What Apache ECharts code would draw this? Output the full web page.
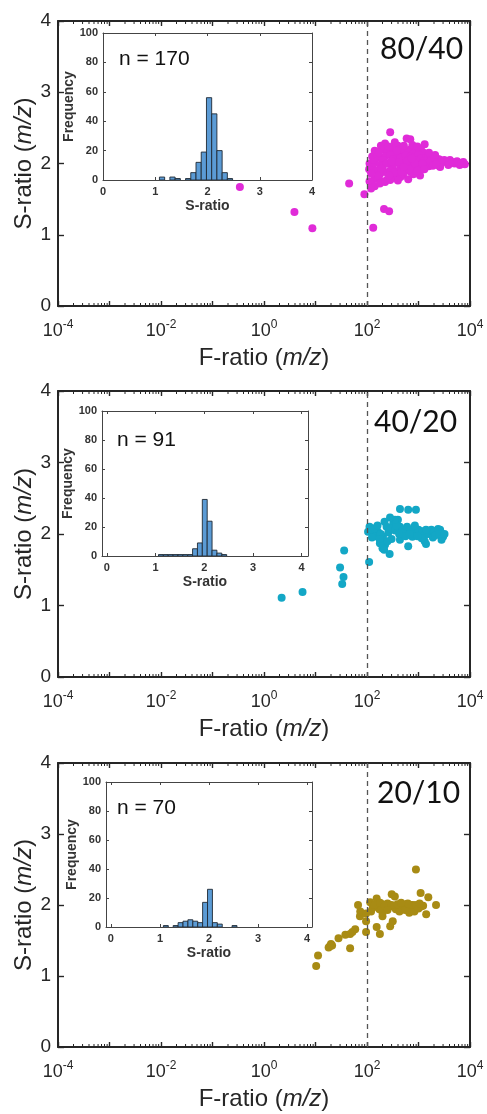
<!DOCTYPE html>
<html><head><meta charset="utf-8">
<script src="https://cdn.jsdelivr.net/npm/echarts@6/dist/echarts.min.js"></script>
<style>html,body{margin:0;padding:0;background:#fff}#c{width:487px;height:1114px}</style>
</head><body><div id="c"></div>
<script>
// ---------------- data ----------------
const panelTags = ['80/40', '40/20', '20/10'];
const sampleLabels = ['n = 170', 'n = 91', 'n = 70'];
const seriesColors = ['#e02bd8', '#13a7c6', '#a88b14'];
const logTickExponents = [-4, -2, 0, 2, 4];
const sRatioTicks = [0, 1, 2, 3, 4];
const freqTicks = [0, 20, 40, 60, 80, 100];
const minorMultipliers = [2, 3, 4, 5, 6, 7, 8, 9];
const fThreshold = 100;
const binWidth = 0.1;

// [F-ratio, S-ratio]
const points8040 = [
  [0.34,1.67],[45,1.72],[89,1.57],[3.9,1.32],[8.7,1.09],[132,1.10],[214,1.36],[269,1.33],
  [282,2.44],[589,2.35],[692,2.34],[1318,2.27],[347,2.30],[186,2.25],[398,2.25],[224,2.28],
  [141,2.18],[200,2.2],[251,2.17],[316,2.21],[447,2.2],[562,2.19],[708,2.2],[891,2.21],[1000,2.2],[1122,2.19],
  [355,2.15],[501,2.15],[631,2.16],[794,2.14],[1259,2.15],
  [126,2.1],[158,2.12],[178,2.08],[224,2.1],[282,2.12],[398,2.1],[447,2.08],[562,2.11],[708,2.1],[851,2.09],
  [1000,2.12],[1122,2.07],[1413,2.08],[1585,2.1],[1778,2.09],[2239,2.07],[2512,2.06],[200,2.05],[316,2.06],
  [631,2.05],[891,2.04],[1259,2.03],
  [112,2.0],[141,2.02],[178,1.98],[251,2.0],[355,2.01],[501,2.0],[708,1.99],[794,2.02],[1000,1.98],[1413,2.0],
  [1995,2.02],[2512,1.97],[126,1.95],[200,1.96],[316,1.95],[447,1.94],[631,1.96],[891,1.95],[1122,1.94],
  [1585,1.96],[3162,2.05],[4074,2.05],[5012,2.0],[6310,1.98],[7413,2.02],[7943,1.99],[3548,2.02],[2818,2.01],
  [110,1.92],[151,1.9],[224,1.88],[282,1.9],[398,1.89],[562,1.9],[708,1.88],[1000,1.87],[178,1.85],[355,1.86],
  [501,1.84],[794,1.85],[2630,1.95],[1072,1.83],
  [141,1.79],[164,1.82],[251,1.78],[316,1.8],[447,1.81],[631,1.78],[200,1.75],[398,1.76],
  [126,1.71],[112,1.75],[141,1.68],[178,1.72],[224,1.74],[282,1.77],[120,1.65],
  [240,2.0],[300,2.03],[420,2.02],[600,2.03],[850,2.0],[1200,2.0],[1700,2.03],[2000,2.08],[380,2.18],[520,2.25],
  [760,2.26],[950,2.24],[1600,2.15],[2100,2.12],[170,2.15],[260,2.24],[660,1.92],[950,1.9],[1300,1.92],[1900,1.97],
  [2200,1.99],[460,1.88],[330,1.87],[190,1.93],[120,1.86],[270,1.83],[520,1.95],[740,2.07],[3800,1.98],[4500,2.02],
  [5600,2.03],[6800,2.0]
];
const points4020 = [
  [2.2,1.11],[5.6,1.19],[36,1.77],[30,1.53],[35,1.40],[33,1.30],[110,1.61],[275,1.72],
  [437,2.35],[631,2.34],[891,2.34],
  [112,2.10],[132,2.01],[105,2.03],[163,2.03],[219,2.17],[240,2.10],[324,2.15],[398,2.2],[436,2.10],[501,2.06],
  [589,2.01],[794,2.03],[1072,2.01],[1445,2.03],[1778,2.06],[2239,2.01],[2818,2.0],[2630,2.06],[204,1.96],[204,1.87],
  [224,1.85],[436,1.92],[631,1.83],[1400,1.86],[1318,1.90],[178,1.87],
  [120,2.06],[140,2.08],[150,1.97],[185,2.0],[260,2.02],[290,2.08],[350,2.05],[370,2.12],[470,2.0],[540,2.03],
  [700,2.06],[900,2.0],[1000,2.06],[1200,2.04],[1300,1.98],[1600,2.0],[2000,2.04],[2400,2.07],[3000,1.96],[2800,1.92],
  [1900,1.95],[1150,1.94],[760,1.96],[560,1.97],[300,1.93],[250,1.90],[200,1.80],[215,1.78],[175,1.93],[350,2.2],
  [280,2.23],[600,2.1],[850,2.12],[125,1.95],[160,2.12],[420,2.0],[680,2.0],[950,1.97],[1400,2.06],[2100,1.98],
  [2500,2.0],[3200,2.0]
];
const points2010 = [
  [891,2.50],[1100,2.17],[1550,2.11],[2190,2.00],[1410,1.87],[302,2.15],[347,2.12],[154,2.09],[115,2.04],[67,2.0],
  [73,1.84],[74,1.91],[96,1.88],[96,1.77],[96,1.62],[154,1.69],[178,1.59],[282,1.70],[316,1.77],[200,1.84],
  [59,1.66],[52,1.62],[47,1.59],[47,1.39],[28,1.53],[21,1.43],[19,1.42],[18,1.40],[11.2,1.29],[10.3,1.14],
  [129,1.96],[162,1.98],[200,2.01],[234,1.96],[251,2.02],[316,1.98],[363,1.94],[427,1.98],[490,1.96],[575,2.01],
  [661,1.98],[776,2.0],[832,1.96],[955,1.98],[1122,1.98],[1230,1.99],[661,1.89],[832,1.91],[427,1.91],[200,1.89],
  [174,1.94],[120,1.91],
  [140,2.0],[180,2.03],[220,1.99],[300,2.0],[390,2.01],[520,1.99],[700,2.0],[900,2.0],[1000,1.95],[550,1.93],
  [250,1.93],[620,2.02],[1050,2.02],[460,2.03],[38,1.58],[20,1.45]
];
const binStart8040 = [1.08,1.28,1.38,1.58,1.68,1.78,1.88,1.98,2.08,2.18,2.28,2.38];
const binCount8040 = [2,2,1,1,5,12,19,56,45,20,5,1];
const binStart4020 = [1.06,1.16,1.26,1.36,1.46,1.56,1.66,1.76,1.86,1.96,2.06,2.16,2.26,2.36];
const binCount4020 = [1,1,1,1,1,1,1,5,9,39,24,4,2,1];
const binStart2010 = [1.07,1.27,1.37,1.47,1.57,1.67,1.77,1.87,1.97,2.07,2.17,2.47];
const binCount2010 = [1,1,3,4,5,4,3,17,26,3,2,1];

const allPoints = [points8040, points4020, points2010];
const allBinStarts = [binStart8040, binStart4020, binStart2010];
const allBinCounts = [binCount8040, binCount4020, binCount2010];

// minor tick positions of the log axis (2..9 x each decade)
const minorTickValues = [];
for (let e = -4; e < 4; e++) minorMultipliers.forEach(m => minorTickValues.push(m * Math.pow(10, e)));

// ---------------- layout ----------------
const layout = [
  {top: 21, h: 285, inset: {left: 103, top: 33, w: 209, h: 147}, ix: [0, 4], n: [119, 59], tag: [380, 49]},
  {top: 391, h: 286, inset: {left: 102, top: 411, w: 206, h: 145}, ix: [-0.1, 4.13], n: [117, 440], tag: [374, 422]},
  {top: 763, h: 284, inset: {left: 106, top: 782, w: 206, h: 145}, ix: [-0.1, 4.1], n: [117, 808], tag: [377, 793]}
];

const DARK = '#262626';
const FONT = '"Liberation Sans", Arial, sans-serif';

const grids = [], xAxes = [], yAxes = [], series = [], graphics = [];

function logLabel(v) {
  const e = Math.round(Math.log10(v));
  if (logTickExponents.indexOf(e) < 0) return '';
  return '{b|10}{s|' + e + '}';
}
const logRich = {
  b: {fontSize: 18, fontFamily: FONT, color: DARK, lineHeight: 21, verticalAlign: 'bottom'},
  s: {fontSize: 12, fontFamily: FONT, color: DARK, lineHeight: 12, verticalAlign: 'top'}
};
const nameRich = {
  t: {fontSize: 24, fontFamily: FONT, color: DARK},
  i: {fontSize: 24, fontFamily: FONT, color: DARK, fontStyle: 'italic'}
};

layout.forEach((L, p) => {
  const gMain = grids.length;
  grids.push({left: 58, top: L.top, width: 412, height: L.h, show: false});
  const gIn = grids.length;
  grids.push({left: L.inset.left, top: L.inset.top, width: L.inset.w, height: L.inset.h,
    show: true, backgroundColor: '#fff', borderWidth: 0});

  const mainAxisLine = {show: true, onZero: false, lineStyle: {color: DARK, width: 2}};
  const logCommon = {
    type: 'log', logBase: 10, gridIndex: gMain, min: 1e-4, max: 1e4, interval: 1,
    axisLine: mainAxisLine,
    axisTick: {show: true, inside: true, length: 5, lineStyle: {color: DARK, width: 1.4}},
    minorTick: {show: false},
    splitLine: {show: false}, minorSplitLine: {show: false}
  };
  const xMain = xAxes.length;
  xAxes.push(Object.assign({}, logCommon, {
    position: 'bottom',
    axisLabel: {formatter: logLabel, rich: logRich, margin: 13, showMinLabel: true, showMaxLabel: true, hideOverlap: false},
    name: '{t|F-ratio (}{i|m/z}{t|)}', nameLocation: 'middle', nameGap: 40, nameMoveOverlap: false,
    nameTextStyle: {rich: nameRich}
  }));
  xAxes.push(Object.assign({}, logCommon, {position: 'top', axisLabel: {show: false}}));

  const linCommon = {
    type: 'value', gridIndex: gMain, min: 0, max: 4, interval: 1,
    axisLine: mainAxisLine,
    axisTick: {show: true, inside: true, length: 6, lineStyle: {color: DARK, width: 1.4}},
    splitLine: {show: false}
  };
  const yMain = yAxes.length;
  yAxes.push(Object.assign({}, linCommon, {
    position: 'left',
    axisLabel: {fontSize: 19, fontFamily: FONT, color: DARK, margin: 7,
      formatter: v => sRatioTicks.indexOf(v) >= 0 ? String(v) : ''},
    name: '{t|S-ratio (}{i|m/z}{t|)}', nameLocation: 'middle', nameGap: 22, nameRotate: 90,
    nameMoveOverlap: false,
    nameTextStyle: {rich: nameRich}
  }));
  yAxes.push(Object.assign({}, linCommon, {position: 'right', axisLabel: {show: false}}));

  // inset axes
  const inLine = {show: true, onZero: false, lineStyle: {color: '#444', width: 1}};
  const inTick = {show: true, inside: true, length: 3, lineStyle: {color: '#444', width: 1}};
  const inLabel = {fontSize: 11, fontWeight: 'bold', fontFamily: FONT, color: '#333'};
  const inX = {
    type: 'value', gridIndex: gIn, min: L.ix[0], max: L.ix[1],
    axisLine: inLine, axisTick: inTick, splitLine: {show: false}
  };
  const xIn = xAxes.length;
  xAxes.push(Object.assign({}, inX, {
    position: 'bottom',
    axisLabel: Object.assign({}, inLabel, {margin: 6, showMinLabel: true, showMaxLabel: true,
      formatter: v => sRatioTicks.indexOf(v) >= 0 ? String(v) : ''}),
    name: 'S-ratio', nameLocation: 'middle', nameGap: 19,
    nameTextStyle: {fontSize: 14, fontWeight: 'bold', fontFamily: FONT, color: '#333'}
  }));
  xAxes.push(Object.assign({}, inX, {position: 'top', axisLabel: {show: false}}));
  const inY = {
    type: 'value', gridIndex: gIn, min: 0, max: 100, interval: 20,
    axisLine: inLine, axisTick: inTick, splitLine: {show: false}
  };
  const yIn = yAxes.length;
  yAxes.push(Object.assign({}, inY, {
    position: 'left',
    axisLabel: Object.assign({}, inLabel, {margin: 5,
      formatter: v => freqTicks.indexOf(v) >= 0 ? String(v) : ''}),
    name: 'Frequency', nameLocation: 'middle', nameGap: 24, nameRotate: 90,
    nameTextStyle: {fontSize: 14, fontWeight: 'bold', fontFamily: FONT, color: '#333'}
  }));
  yAxes.push(Object.assign({}, inY, {position: 'right', axisLabel: {show: false}}));

  // minor ticks of the log axis (top and bottom, inward)
  series.push({
    type: 'custom', xAxisIndex: xMain, yAxisIndex: yMain, silent: true, clip: false, z: 5,
    data: minorTickValues.map(v => [v]),
    encode: {x: 0},
    renderItem: function (params, api) {
      const b = api.coord([api.value(0), 0]);
      const t = api.coord([api.value(0), 4]);
      return {
        type: 'group',
        children: [
          {type: 'line', shape: {x1: b[0], y1: b[1], x2: b[0], y2: b[1] - 3}, style: {stroke: DARK, lineWidth: 1}},
          {type: 'line', shape: {x1: t[0], y1: t[1], x2: t[0], y2: t[1] + 3}, style: {stroke: DARK, lineWidth: 1}}
        ]
      };
    }
  });

  series.push({
    type: 'scatter', xAxisIndex: xMain, yAxisIndex: yMain,
    data: allPoints[p], symbolSize: 8,
    itemStyle: {color: seriesColors[p], opacity: 1},
    markLine: {
      silent: true, symbol: ['none', 'none'], label: {show: false},
      lineStyle: {type: [5, 4], color: '#555', width: 1.3},
      data: [{xAxis: fThreshold}]
    }
  });
  series.push({
    type: 'custom', xAxisIndex: xIn, yAxisIndex: yIn, clip: true,
    data: allBinStarts[p].map((s, k) => [s, s + binWidth, allBinCounts[p][k]]),
    encode: {x: [0, 1], y: 2},
    renderItem: function (params, api) {
      const a = api.coord([api.value(0), 0]);
      const b = api.coord([api.value(1), api.value(2)]);
      return {
        type: 'rect',
        shape: {x: a[0], y: b[1], width: b[0] - a[0], height: a[1] - b[1]},
        style: {fill: '#5b9bd5', stroke: '#1f2933', lineWidth: 0.9}
      };
    }
  });

  graphics.push({
    type: 'text', x: L.n[0], y: L.n[1], z: 10,
    style: {text: sampleLabels[p], font: '21px ' + FONT, fill: '#111', verticalAlign: 'middle'}
  });
  graphics.push({
    type: 'text', x: L.tag[0], y: L.tag[1], z: 10,
    style: {text: panelTags[p], font: '30px Lato, "Open Sans", sans-serif', fill: '#111', verticalAlign: 'middle'}
  });
});

const chart = echarts.init(document.getElementById('c'), null, {renderer: 'canvas'});
chart.setOption({
  animation: false,
  backgroundColor: '#fff',
  grid: grids, xAxis: xAxes, yAxis: yAxes, series: series, graphic: graphics
});
</script></body></html>
